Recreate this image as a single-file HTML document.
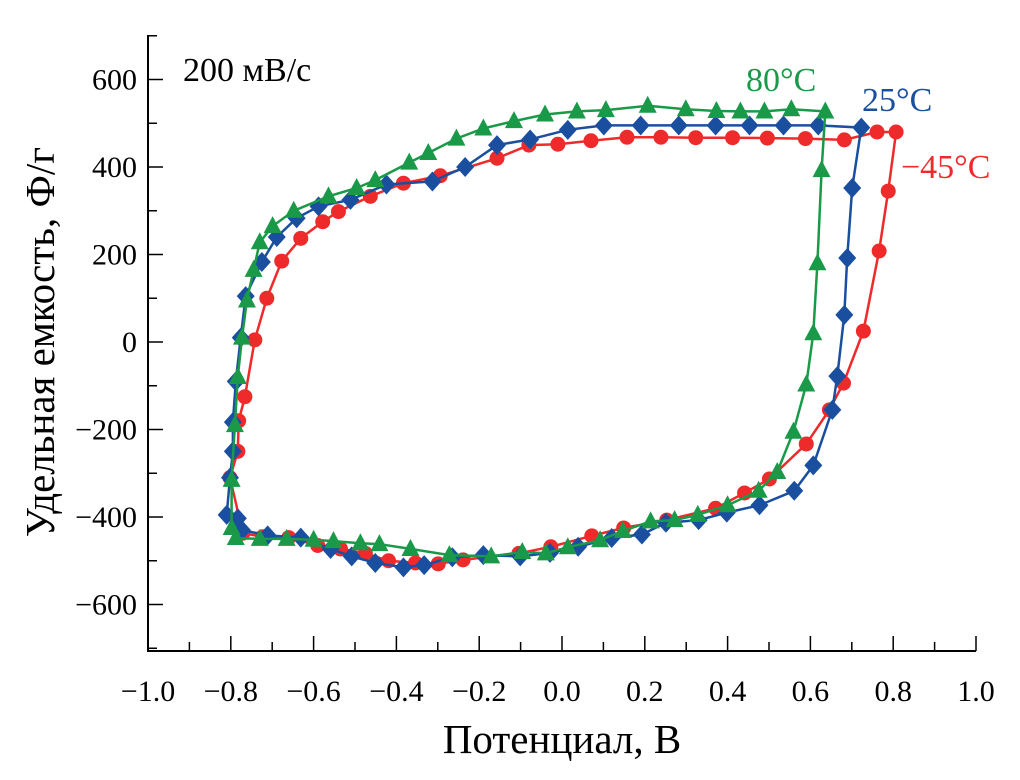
<!DOCTYPE html>
<html><head><meta charset="utf-8"><style>
html,body{margin:0;padding:0;background:#fff;}
svg{display:block;font-family:"Liberation Serif",serif;}
</style></head><body>
<svg id="chart" width="1020" height="780" viewBox="0 0 1020 780" xmlns="http://www.w3.org/2000/svg">
<g id="axes"></g>
<g id="series"></g>
<text x="183" y="81" font-size="34">200 мВ/с</text>
<text x="746" y="91" font-size="34" fill="#1a9a48">80°C</text>
<text x="862" y="111" font-size="34" fill="#1a4fa0">25°C</text>
<text x="901" y="178" font-size="34" fill="#ee2a2a">−45°C</text>
<text x="562" y="753" font-size="41" text-anchor="middle">Потенциал, В</text>
<text transform="translate(54,342) rotate(-90)" font-size="41" text-anchor="middle">Удельная емкость, Ф/г</text>
</svg>
<script>
const xTicks=[-1.0,-0.8,-0.6,-0.4,-0.2,0.0,0.2,0.4,0.6,0.8,1.0];
const xTickLabels=["−1.0","−0.8","−0.6","−0.4","−0.2","0.0","0.2","0.4","0.6","0.8","1.0"];
const yTicks=[-600,-400,-200,0,200,400,600];
const yTickLabels=["−600","−400","−200","0","200","400","600"];
const redX=[-0.802,-0.783,-0.781,-0.766,-0.742,-0.713,-0.677,-0.631,-0.578,-0.540,-0.463,-0.383,-0.294,-0.157,-0.080,-0.010,0.070,0.157,0.239,0.323,0.412,0.496,0.588,0.682,0.761,0.807,0.788,0.766,0.728,0.680,0.646,0.590,0.501,0.441,0.371,0.253,0.149,0.072,-0.027,-0.104,-0.239,-0.299,-0.354,-0.419,-0.475,-0.535,-0.590,-0.660,-0.723,-0.771];
const redY=[-310,-250,-180,-125,5,100,185,237,275,298,333,363,380,420,450,452,460,468,468,467,467,466,465,462,480,480,345,208,25,-94,-155,-233,-313,-345,-380,-407,-425,-443,-468,-483,-498,-507,-505,-500,-483,-473,-465,-447,-445,-437];
const blueX=[-0.810,-0.802,-0.795,-0.795,-0.788,-0.776,-0.764,-0.725,-0.689,-0.641,-0.588,-0.511,-0.424,-0.313,-0.234,-0.157,-0.077,0.014,0.101,0.190,0.282,0.371,0.453,0.535,0.619,0.723,0.701,0.689,0.682,0.665,0.653,0.607,0.561,0.477,0.398,0.330,0.251,0.193,0.120,0.039,-0.029,-0.101,-0.190,-0.265,-0.333,-0.383,-0.451,-0.508,-0.559,-0.631,-0.711,-0.773,-0.783];
const blueY=[-395,-310,-250,-183,-90,10,105,183,240,283,310,325,360,367,400,450,463,485,495,495,495,495,495,495,495,490,352,192,62,-78,-155,-282,-340,-373,-390,-407,-413,-440,-448,-468,-482,-490,-487,-492,-510,-515,-505,-490,-473,-447,-442,-430,-403];
const greenX=[-0.798,-0.790,-0.783,-0.773,-0.761,-0.745,-0.730,-0.699,-0.648,-0.564,-0.496,-0.451,-0.369,-0.323,-0.255,-0.190,-0.116,-0.041,0.036,0.106,0.207,0.299,0.373,0.431,0.489,0.554,0.636,0.627,0.617,0.607,0.590,0.559,0.520,0.475,0.400,0.328,0.272,0.214,0.147,0.092,0.014,-0.039,-0.096,-0.171,-0.272,-0.366,-0.441,-0.487,-0.552,-0.600,-0.665,-0.730,-0.788,-0.798];
const greenY=[-315,-190,-80,10,95,165,228,265,300,333,352,370,410,432,465,488,505,520,527,530,540,532,528,527,527,532,527,393,180,20,-97,-205,-297,-340,-373,-395,-407,-410,-432,-453,-469,-483,-480,-490,-487,-473,-462,-460,-455,-452,-450,-450,-448,-425];

const NS="http://www.w3.org/2000/svg";
const X0=148,X1=976,Y0=651,Y1=35;
function sx(v){return 562+v*414;}
function sy(v){return 342-v*0.4375;}
function mk(tag,attrs,parent){const e=document.createElementNS(NS,tag);for(const k in attrs)e.setAttribute(k,attrs[k]);parent.appendChild(e);return e;}
const axes=document.getElementById('axes');
let l=mk('line',{x1:X0,y1:Y1,x2:X0,y2:Y0+1,stroke:'#000','stroke-width':2},axes);


l=mk('line',{x1:X0-1,y1:Y0,x2:X1,y2:Y0,stroke:'#000','stroke-width':2},axes);


for(let v=-1.0;v<=1.0001;v+=0.1){
  const major=Math.abs(Math.round(v*10))%2===0;
  const t=mk('line',{x1:sx(v),y1:Y0,x2:sx(v),y2:Y0-(major?15:9),stroke:'#000','stroke-width':1.5},axes);
  
  
}
for(let v=-700;v<=700;v+=100){
  const major=(v%200)===0;
  const y=sy(v); if(y<Y1-1||y>Y0)continue;
  const t=mk('line',{x1:X0,y1:y,x2:X0+(major?15:9),y2:y,stroke:'#000','stroke-width':1.5},axes);
  
  
}
xTicks.forEach((v,i)=>{
  const t=mk('text',{x:sx(v),y:701,'font-size':30,'text-anchor':'middle'},axes);
  t.textContent=xTickLabels[i];
  
  
});
yTicks.forEach((v,i)=>{
  const t=mk('text',{x:137,y:sy(v)+10,'font-size':30,'text-anchor':'end'},axes);
  t.textContent=yTickLabels[i];
  
  
});
const series=document.getElementById('series');
function draw(xs,ys,color,shape,name){
  const g=mk('g',{},series);
  
  
  let d='';
  xs.forEach((x,i)=>{d+=(i?'L':'M')+sx(x).toFixed(1)+' '+sy(ys[i]).toFixed(1);});
  d+='Z';
  const p=mk('path',{d:d,fill:'none',stroke:color,'stroke-width':2.5},g);
  
  
  xs.forEach((x,i)=>{
    const cx=sx(x),cy=sy(ys[i]);let m;
    if(shape==='circle')m=mk('circle',{cx:cx,cy:cy,r:7.5,fill:color},g);
    else if(shape==='diamond')m=mk('polygon',{points:`${cx},${cy-10} ${cx+9},${cy} ${cx},${cy+10} ${cx-9},${cy}`,fill:color},g);
    else m=mk('polygon',{points:`${cx},${cy-10} ${cx+9},${cy+7} ${cx-9},${cy+7}`,fill:color},g);
    
    
  });
}
draw(redX,redY,'#ee2a2a','circle','series-minus45c');
draw(blueX,blueY,'#1a4fa0','diamond','series-25c');
draw(greenX,greenY,'#1a9a48','triangle','series-80c');
</script>
</body></html>
